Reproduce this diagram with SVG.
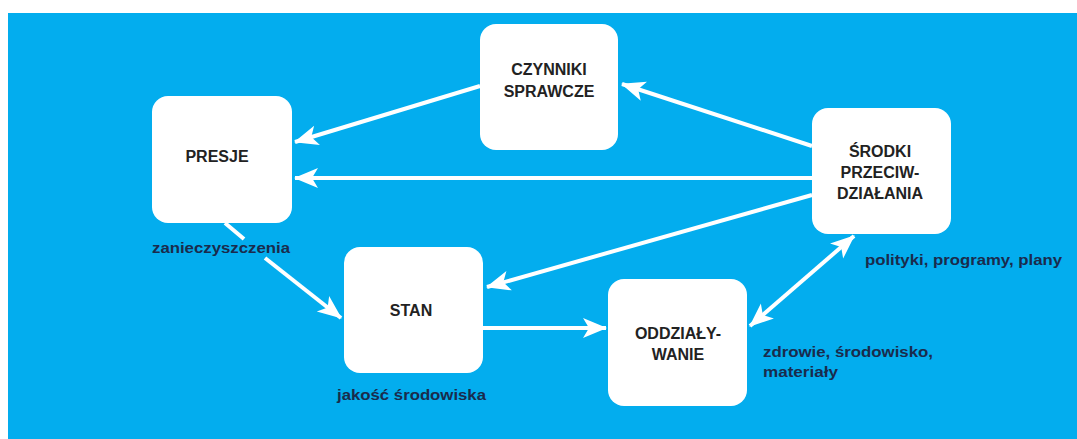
<svg xmlns="http://www.w3.org/2000/svg" width="1077" height="439" viewBox="0 0 1077 439">
<style>
.box{fill:#ffffff}
.nt{font-family:"Liberation Sans",Arial,sans-serif;font-weight:bold;font-size:16px;fill:#222222;text-anchor:middle}
.lb{font-family:"Liberation Sans",Arial,sans-serif;font-weight:bold;font-size:15px;fill:#1a2b4c}
.ln{stroke:#ffffff;stroke-width:4;fill:none}
</style>
<defs>
<marker id="ah" markerUnits="userSpaceOnUse" markerWidth="30" markerHeight="24" viewBox="-25 -12 27 24" refX="0" refY="0" orient="auto-start-reverse">
<path d="M1,0 L-23,-10 L-17,0 L-23,10 Z" fill="#ffffff"/>
</marker>
</defs>
<rect x="0" y="0" width="1077" height="439" fill="#ffffff"/>
<rect x="8" y="13" width="1069" height="426" fill="#03ADEE"/>

<g id="connectors">
<line class="ln" x1="480" y1="86" x2="295" y2="142" marker-end="url(#ah)"/>
<line class="ln" x1="812" y1="146" x2="622" y2="84" marker-end="url(#ah)"/>
<line class="ln" x1="812" y1="178" x2="295" y2="178" marker-end="url(#ah)"/>
<line class="ln" x1="812" y1="195" x2="487" y2="287" marker-end="url(#ah)"/>
<line class="ln" x1="225" y1="223" x2="244" y2="239"/>
<line class="ln" x1="265" y1="258" x2="341" y2="318" marker-end="url(#ah)"/>
<line class="ln" x1="483" y1="328" x2="606" y2="328" marker-end="url(#ah)"/>
<line class="ln" x1="750" y1="326" x2="854" y2="236" marker-start="url(#ah)" marker-end="url(#ah)"/>
</g>

<g id="czynniki">
<rect class="box" x="480" y="24" width="138" height="126" rx="16"/>
<text class="nt" x="549" y="75">CZYNNIKI</text>
<text class="nt" x="549" y="97">SPRAWCZE</text>
</g>
<g id="presje">
<rect class="box" x="152" y="96" width="140" height="127" rx="16"/>
<text class="nt" x="217" y="162">PRESJE</text>
</g>
<g id="srodki">
<rect class="box" x="812" y="108" width="139" height="126" rx="16"/>
<text class="nt" x="880" y="157">ŚRODKI</text>
<text class="nt" x="880" y="178">PRZECIW-</text>
<text class="nt" x="880" y="199">DZIAŁANIA</text>
</g>
<g id="stan">
<rect class="box" x="344" y="247" width="139" height="126" rx="16"/>
<text class="nt" x="411" y="316">STAN</text>
</g>
<g id="oddzialywanie">
<rect class="box" x="608" y="279" width="139" height="127" rx="16"/>
<text class="nt" x="678" y="339">ODDZIAŁY-</text>
<text class="nt" x="678" y="360">WANIE</text>
</g>

<g id="labels">
<text class="lb" x="152" y="253" textLength="138" lengthAdjust="spacingAndGlyphs">zanieczyszczenia</text>
<text class="lb" x="337" y="400" textLength="149" lengthAdjust="spacingAndGlyphs">jakość środowiska</text>
<text class="lb" x="865" y="265" textLength="197" lengthAdjust="spacingAndGlyphs">polityki, programy, plany</text>
<text class="lb" x="763" y="357" textLength="170" lengthAdjust="spacingAndGlyphs">zdrowie, środowisko,</text>
<text class="lb" x="763" y="377" textLength="75" lengthAdjust="spacingAndGlyphs">materiały</text>
</g>
</svg>
